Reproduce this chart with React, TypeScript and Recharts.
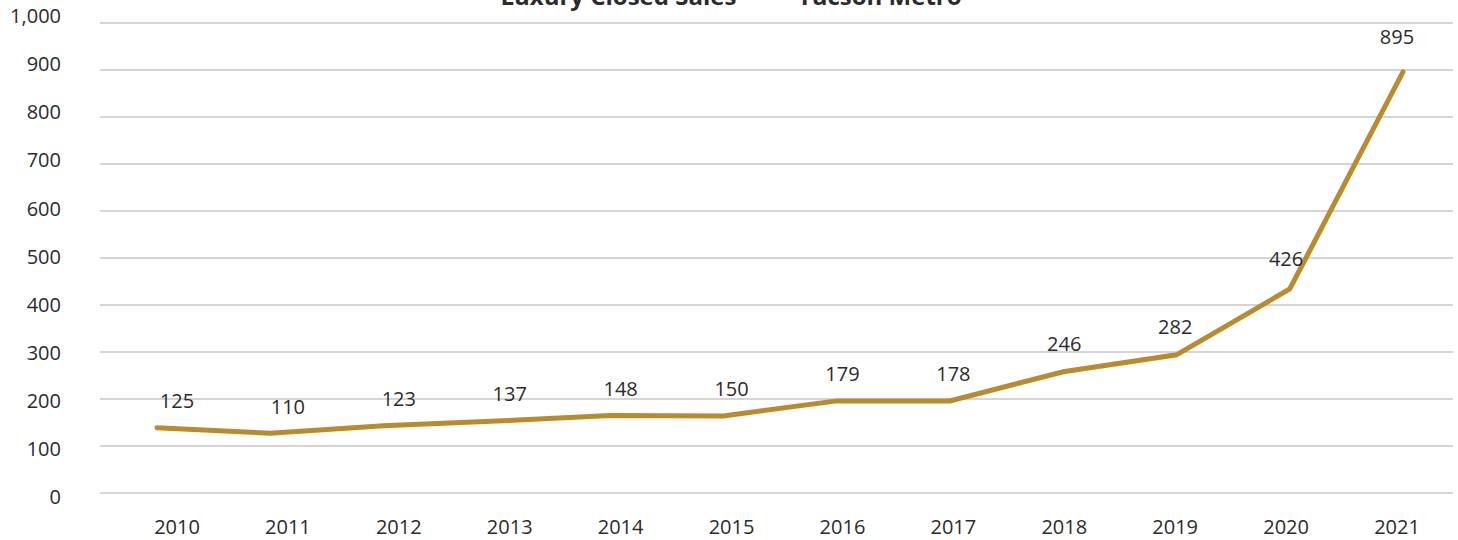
import React from "react";
import { LineChart, Line, XAxis, YAxis, CartesianGrid, LabelList } from "recharts";

const years = ["2010", "2011", "2012", "2013", "2014", "2015", "2016", "2017", "2018", "2019", "2020", "2021"];
const lineValues = [139, 127, 143, 153, 165, 164, 196, 196, 258, 294, 434, 896];
const labelValues = [125, 110, 123, 137, 148, 150, 179, 178, 246, 282, 426, 895];
const yTicks = [0, 100, 200, 300, 400, 500, 600, 700, 800, 900, 1000];
const title = "Luxury Closed Sales \u00a0\u00a0\u2014\u00a0\u00a0 Tucson Metro";

const data = years.map((year, i) => ({ year, value: lineValues[i], label: labelValues[i] }));

const FONT = "'Open Sans', 'Noto Sans', sans-serif";
const TEXT = "#2b2b2b";
const GOLD = "#B98B2E";

export default function App() {
  return (
    <>
      <style>{"html,body{margin:0;padding:0;background:#fff;}"}</style>
      <div style={{ position: "relative", width: 1458, height: 540, overflow: "hidden", background: "#fff", fontFamily: FONT }}>
        <LineChart width={1458} height={540} data={data} margin={{ top: 23, right: 5, bottom: 17, left: 0 }}>
          <CartesianGrid yAxisId="line" xAxisId="line" vertical={false} stroke="#ABABAB" strokeWidth={1} />
          <XAxis
            xAxisId="lab"
            dataKey="year"
            interval={0}
            height={30}
            padding={{ left: 77, right: 56 }}
            axisLine={false}
            tickLine={false}
            tickSize={0}
            tickMargin={27}
            tick={{ fill: TEXT, fontSize: 20, fontFamily: FONT }}
          />
          <XAxis xAxisId="line" dataKey="year" hide padding={{ left: 57, right: 50 }} />
          <YAxis
            yAxisId="lab"
            width={100}
            domain={[0, 1000]}
            ticks={yTicks}
            interval={0}
            padding={{ top: -7, bottom: -4 }}
            axisLine={false}
            tickLine={false}
            tickSize={0}
            tickMargin={39}
            tickFormatter={(v: number) => v.toLocaleString("en-US")}
            tick={{ fill: TEXT, fontSize: 20, fontFamily: FONT }}
          />
          <YAxis yAxisId="line" hide domain={[0, 1000]} ticks={yTicks} />
          <Line
            xAxisId="line"
            yAxisId="line"
            dataKey="value"
            stroke={GOLD}
            strokeWidth={5}
            strokeLinecap="round"
            dot={false}
            activeDot={false}
            isAnimationActive={false}
          />
          <Line
            xAxisId="lab"
            yAxisId="lab"
            dataKey="value"
            stroke="none"
            dot={false}
            activeDot={false}
            legendType="none"
            isAnimationActive={false}
          >
            <LabelList dataKey="label" position="top" offset={22} fill={TEXT} fontSize={20} fontFamily={FONT} />
          </Line>
        </LineChart>
        <svg width={1458} height={40} style={{ position: "absolute", left: 0, top: 0 }}>
          <text x={731} y={5} textAnchor="middle" fontFamily={FONT} fontWeight={700} fontSize={24} fill={TEXT}>
            {title}
          </text>
        </svg>
      </div>
    </>
  );
}
